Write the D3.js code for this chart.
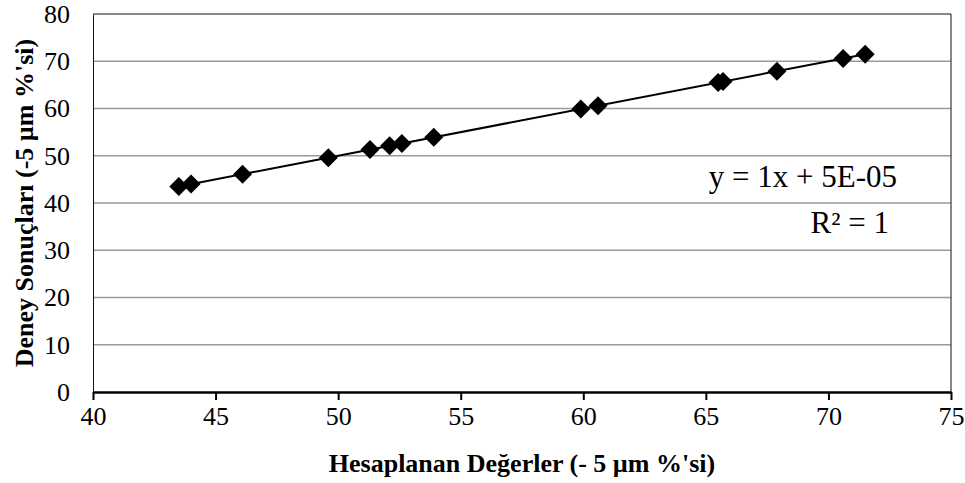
<!DOCTYPE html>
<html>
<head>
<meta charset="utf-8">
<script src="https://cdn.jsdelivr.net/npm/d3@7"></script>
<style>
  body { margin: 0; background: #fff; }
  svg text { font-family: "Liberation Serif", "Times New Roman", serif; fill: #000; }
</style>
</head>
<body>
<svg id="chart" width="965" height="483"></svg>
<script>
// data
const hesaplanan = [43.5, 44.0, 46.1, 49.6, 51.3, 52.1, 52.6, 53.9, 59.9, 60.6, 65.5, 65.7, 67.9, 70.6, 71.5];
const deney      = [43.5, 44.0, 46.1, 49.6, 51.3, 52.1, 52.6, 53.9, 59.9, 60.6, 65.5, 65.7, 67.9, 70.6, 71.5];
const xTicks = [40, 45, 50, 55, 60, 65, 70, 75];
const yTicks = [0, 10, 20, 30, 40, 50, 60, 70, 80];
const trendSlope = 1;
const trendIntercept = 5e-5;
const eqLabel = "y = 1x + 5E-05";
const r2Label = "R² = 1";
const xTitle = "Hesaplanan Değerler (- 5 µm %'si)";
const yTitle = "Deney Sonuçları (-5 µm %'si)";

const svg = d3.select("#chart");
const margin = { top: 14, right: 14, bottom: 91, left: 93 };
const width = +svg.attr("width") - margin.left - margin.right;
const height = +svg.attr("height") - margin.top - margin.bottom;
const g = svg.append("g").attr("transform", `translate(${margin.left},${margin.top})`);

const x = d3.scaleLinear().domain([40, 75]).range([0, width]);
const y = d3.scaleLinear().domain([0, 80]).range([height, 0]);

// gridlines
g.append("g")
  .selectAll("line")
  .data(yTicks.filter(d => d > 0 && d < 80))
  .join("line")
  .attr("x1", 0).attr("x2", width)
  .attr("y1", d => y(d)).attr("y2", d => y(d))
  .attr("stroke", "#9a9a9a")
  .attr("stroke-width", 1.5);

// plot border (top, right)
g.append("path")
  .attr("d", `M0,${y(80)}H${width}V${height}`)
  .attr("fill", "none")
  .attr("stroke", "#111")
  .attr("stroke-width", 1);

// y axis
const yAxis = g.append("g")
  .call(d3.axisLeft(y).tickValues(yTicks).tickSize(0).tickPadding(23));
yAxis.select(".domain").attr("stroke", "#111").attr("stroke-width", 1);
yAxis.selectAll("text").attr("font-size", 26).style("font-family", "Liberation Serif");

// x axis
const xAxis = g.append("g")
  .attr("transform", `translate(0,${height})`)
  .call(d3.axisBottom(x).tickValues(xTicks).tickSizeInner(8).tickSizeOuter(0).tickPadding(7));
xAxis.select(".domain").attr("stroke", "#000").attr("stroke-width", 2.5);
xAxis.selectAll(".tick line").attr("stroke", "#000").attr("stroke-width", 2);
xAxis.selectAll("text").attr("font-size", 26).style("font-family", "Liberation Serif");

// trendline
const xr = d3.extent(hesaplanan);
g.append("line")
  .attr("x1", x(xr[0])).attr("y1", y(trendSlope * xr[0] + trendIntercept))
  .attr("x2", x(xr[1])).attr("y2", y(trendSlope * xr[1] + trendIntercept))
  .attr("stroke", "#000")
  .attr("stroke-width", 2);

// markers
const diamond = d3.symbol().type(d3.symbolSquare).size(180);
g.selectAll("path.pt")
  .data(hesaplanan.map((d, i) => ({ x: d, y: deney[i] })))
  .join("path")
  .attr("class", "pt")
  .attr("d", diamond)
  .attr("transform", d => `translate(${x(d.x)},${y(d.y)}) rotate(45)`)
  .attr("fill", "#000");

// equation labels
g.append("text")
  .attr("x", 897 - margin.left).attr("y", 187 - margin.top)
  .attr("text-anchor", "end")
  .attr("font-size", 31)
  .text(eqLabel);
g.append("text")
  .attr("x", 889 - margin.left).attr("y", 233 - margin.top)
  .attr("text-anchor", "end")
  .attr("font-size", 31)
  .text(r2Label);

// axis titles
svg.append("text")
  .attr("x", margin.left + width / 2).attr("y", 472)
  .attr("text-anchor", "middle")
  .attr("font-size", 26)
  .attr("font-weight", "bold")
  .text(xTitle);
svg.append("text")
  .attr("transform", `translate(33,${margin.top + height / 2}) rotate(-90)`)
  .attr("text-anchor", "middle")
  .attr("font-size", 26)
  .attr("font-weight", "bold")
  .text(yTitle);
</script>
</body>
</html>
